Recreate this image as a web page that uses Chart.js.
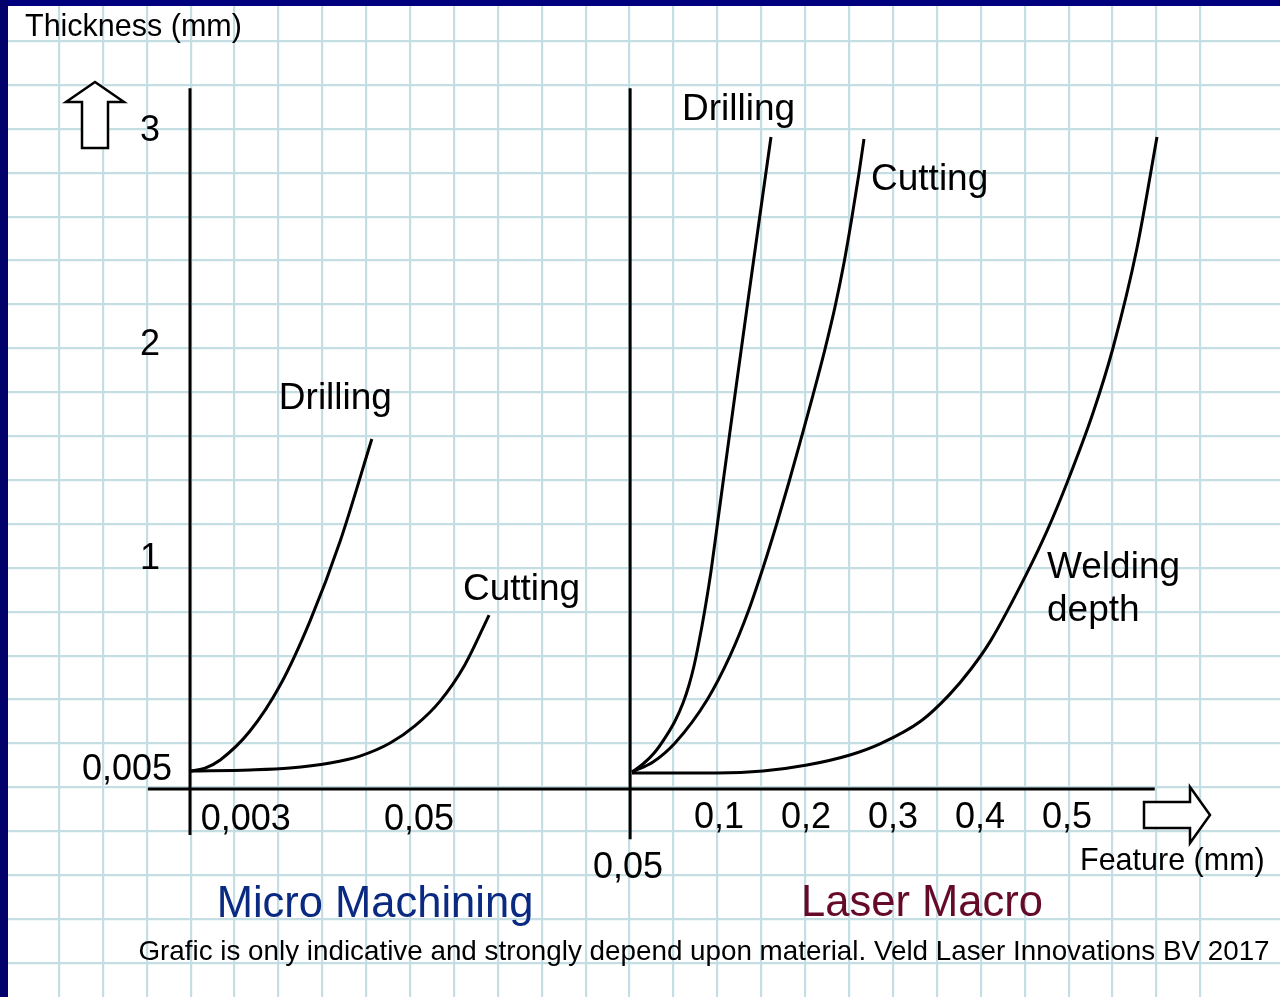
<!DOCTYPE html>
<html>
<head>
<meta charset="utf-8">
<script src="https://cdn.jsdelivr.net/npm/chart.js@4.4.1/dist/chart.umd.min.js"></script>
<style>
  html, body { margin: 0; padding: 0; background: #fff; overflow: hidden; }
  #chart { display: block; }
</style>
</head>
<body>
<canvas id="chart" width="1280" height="997"></canvas>
<script>
// --- values (thickness in mm vs feature in mm) ---
const microDrillingX = [0.0002, 0.0033, 0.0066, 0.0131, 0.0197, 0.0262, 0.0328, 0.0397];
const microDrillingY = [0.009, 0.023, 0.061, 0.196, 0.411, 0.710, 1.084, 1.561];

const microCuttingX = [0.0002, 0.0131, 0.0218, 0.0306, 0.0371, 0.0437, 0.0491, 0.0546, 0.0600, 0.0653];
const microCuttingY = [0.009, 0.014, 0.023, 0.047, 0.079, 0.140, 0.220, 0.336, 0.505, 0.738];

const macroDrillingX = [0.0011, 0.0138, 0.0276, 0.0391, 0.0506, 0.0598, 0.0667, 0.0724, 0.0770, 0.0816, 0.0862, 0.0920, 0.0989, 0.1057, 0.1195, 0.1333, 0.1471, 0.1609];
const macroDrillingY = [0.005, 0.042, 0.098, 0.164, 0.243, 0.327, 0.411, 0.500, 0.589, 0.687, 0.794, 0.944, 1.150, 1.355, 1.766, 2.173, 2.575, 2.972];

const macroCuttingX = [0.0011, 0.0253, 0.0506, 0.0874, 0.1138, 0.1345, 0.1517, 0.1678, 0.1816, 0.1954, 0.2092, 0.2230, 0.2345, 0.2448, 0.2540, 0.2621, 0.2678];
const macroCuttingY = [0.005, 0.051, 0.140, 0.341, 0.547, 0.752, 0.958, 1.168, 1.360, 1.561, 1.766, 1.981, 2.178, 2.383, 2.598, 2.804, 2.963];

const weldingX = [0.0011, 0.0989, 0.1517, 0.2023, 0.2517, 0.2862, 0.3333, 0.3655, 0.3908, 0.4138, 0.4552, 0.4782, 0.5011, 0.5310, 0.5540, 0.5816, 0.6046];
const weldingY = [0.000, 0.000, 0.009, 0.037, 0.084, 0.136, 0.243, 0.364, 0.486, 0.621, 0.935, 1.131, 1.355, 1.682, 1.986, 2.453, 2.972];

const yTickValues = [3, 2, 1];
const yTickLabels = ['3', '2', '1'];
const yStartValue = 0.005;
const yStartLabel = '0,005';
const microTickValues = [0.003, 0.05];
const microTickLabels = ['0,003', '0,05'];
const macroTickValues = [0.1, 0.2, 0.3, 0.4, 0.5];
const macroTickLabels = ['0,1', '0,2', '0,3', '0,4', '0,5'];
const macroOriginLabel = '0,05';

const FONT = '"Liberation Sans", Arial, Helvetica, sans-serif';
const GRID = '#c4dee3';
const W = 1280, H = 997, CELL = 43.9;

const zip = (xs, ys) => xs.map((x, i) => ({ x, y: ys[i] }));
const curve = (label, xs, ys, axis) => ({
  label, data: zip(xs, ys), xAxisID: axis, yAxisID: 'y',
  borderColor: '#000', borderWidth: 3, pointRadius: 0,
  cubicInterpolationMode: 'monotone', fill: false
});

const curveNotes = [
  { text: 'Drilling', axis: 'xm', x: 0.0194, y: 1.748 },
  { text: 'Cutting', axis: 'xm', x: 0.0596, y: 0.855 },
  { text: 'Drilling', axis: 'xM', x: 0.0586, y: 3.098 },
  { text: 'Cutting', axis: 'xM', x: 0.2759, y: 2.771 },
  { text: 'Welding', axis: 'xM', x: 0.4782, y: 0.958 },
  { text: 'depth', axis: 'xM', x: 0.4782, y: 0.757 }
];

function txt(ctx, s, x, y, size, align, color) {
  ctx.font = size + 'px ' + FONT;
  ctx.fillStyle = color || '#000';
  ctx.textAlign = align || 'left';
  ctx.textBaseline = 'middle';
  ctx.fillText(s, x, y);
}

function poly(ctx, pts) {
  ctx.beginPath();
  pts.forEach(([x, y], i) => i ? ctx.lineTo(x, y) : ctx.moveTo(x, y));
  ctx.closePath();
  ctx.fillStyle = '#fff'; ctx.fill();
  ctx.strokeStyle = '#000'; ctx.lineWidth = 2.5; ctx.lineJoin = 'miter'; ctx.stroke();
}

const decor = {
  id: 'decor',
  afterDatasetsDraw(chart) {
    const { ctx, scales } = chart;
    const { xm, xM, y } = scales;
    ctx.save();
    ctx.strokeStyle = '#000';
    ctx.lineWidth = 3;
    ctx.lineCap = 'butt';
    // axes
    const axisY = y.getPixelForValue(-0.075);
    const top = y.getPixelForValue(3.2);
    ctx.beginPath();
    ctx.moveTo(xm.getPixelForValue(-0.0092), axisY);
    ctx.lineTo(xM.getPixelForValue(0.602), axisY);
    ctx.moveTo(xm.getPixelForValue(0), top);
    ctx.lineTo(xm.getPixelForValue(0), y.getPixelForValue(-0.29));
    ctx.moveTo(xM.getPixelForValue(-0.001), top);
    ctx.lineTo(xM.getPixelForValue(-0.001), y.getPixelForValue(-0.31));
    ctx.stroke();

    // arrows
    poly(ctx, [[95, 82], [124, 102], [108, 102], [108, 148], [82, 148], [82, 102], [66, 102]]);
    poly(ctx, [[1210, 815], [1190, 787], [1190, 802], [1144, 802], [1144, 828], [1190, 828], [1190, 843]]);

    // y tick labels
    yTickValues.forEach((v, i) => txt(ctx, yTickLabels[i], 150, y.getPixelForValue(v), 36, 'center'));
    txt(ctx, yStartLabel, 172, y.getPixelForValue(yStartValue) - 2, 36, 'right');

    // x tick labels
    const xl = axisY + 31;
    microTickValues.forEach((v, i) => {
      if (i === 0) txt(ctx, microTickLabels[i], xm.getPixelForValue(v) - 3, xl, 36, 'left');
      else txt(ctx, microTickLabels[i], xm.getPixelForValue(v), xl, 36, 'center');
    });
    macroTickValues.forEach((v, i) => txt(ctx, macroTickLabels[i], xM.getPixelForValue(v) + 1, xl - 2, 36, 'center'));
    txt(ctx, macroOriginLabel, xM.getPixelForValue(0) - 3, xl + 48, 36, 'center');

    // curve names
    curveNotes.forEach(n => txt(ctx, n.text, scales[n.axis].getPixelForValue(n.x), y.getPixelForValue(n.y), 37, 'left'));

    // axis titles and captions
    txt(ctx, 'Thickness (mm)', 25, 28, 30.5, 'left');
    txt(ctx, 'Feature (mm)', 1080, 862, 30.5, 'left');
    txt(ctx, 'Micro Machining', 375, 905, 43.5, 'center', '#0a2a82');
    txt(ctx, 'Laser Macro', 922, 904, 43.5, 'center', '#650a28');
    txt(ctx, 'Grafic is only indicative and strongly depend upon material. Veld Laser Innovations BV 2017', 704, 952, 27.8, 'center');
    ctx.restore();
  },
  afterDraw(chart) {
    const { ctx } = chart;
    ctx.save();
    ctx.fillStyle = '#00007f';
    ctx.fillRect(0, 0, W, 6);
    ctx.fillStyle = '#02026a';
    ctx.fillRect(0, 0, 8, H);
    ctx.restore();
  }
};

const hideOdd = c => Number.isInteger(c.tick.value) ? GRID : 'rgba(0,0,0,0)';

new Chart(document.getElementById('chart'), {
  type: 'line',
  data: {
    datasets: [
      curve('Micro drilling', microDrillingX, microDrillingY, 'xm'),
      curve('Micro cutting', microCuttingX, microCuttingY, 'xm'),
      curve('Drilling', macroDrillingX, macroDrillingY, 'xM'),
      curve('Cutting', macroCuttingX, macroCuttingY, 'xM'),
      curve('Welding depth', weldingX, weldingY, 'xM')
    ]
  },
  options: {
    responsive: false,
    animation: false,
    events: [],
    layout: { padding: 0 },
    plugins: { legend: { display: false }, tooltip: { enabled: false } },
    scales: {
      gx: {
        type: 'linear', position: 'bottom', min: -15 / CELL, max: (W - 15) / CELL,
        ticks: { display: false, stepSize: 1, maxTicksLimit: 200 },
        grid: { color: hideOdd, lineWidth: 2.2, drawTicks: false },
        border: { display: false },
        afterFit(s) { s.height = 0; }
      },
      gy: {
        type: 'linear', position: 'left', reverse: true, min: -41 / CELL, max: (H - 41) / CELL,
        ticks: { display: false, stepSize: 1, maxTicksLimit: 200 },
        grid: { color: hideOdd, lineWidth: 2.2, drawTicks: false },
        border: { display: false },
        afterFit(s) { s.width = 0; }
      },
      // micro section: 0 at the left axis, 4580 px per mm
      xm: { type: 'linear', display: false, min: -190 / 4580, max: (W - 190) / 4580 },
      // macro section: 0 at the right axis, 870 px per mm
      xM: { type: 'linear', display: false, min: -631 / 870, max: (W - 631) / 870 },
      y: { type: 'linear', display: false, min: (773 - H) / 214, max: 773 / 214 }
    }
  },
  plugins: [decor]
});
</script>
</body>
</html>
